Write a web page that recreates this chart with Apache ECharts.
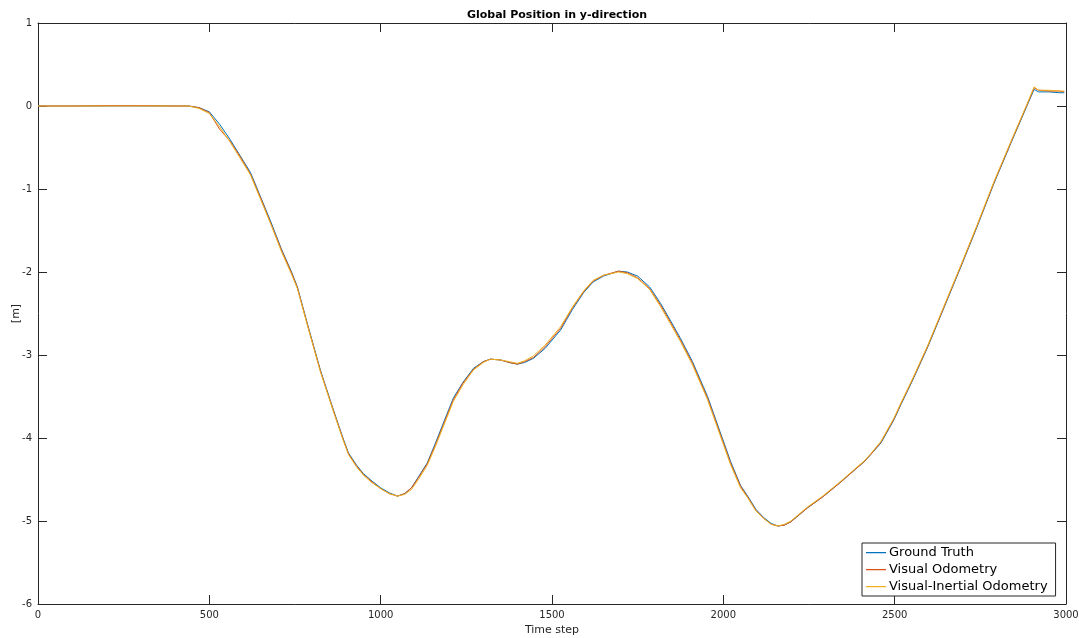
<!DOCTYPE html>
<html>
<head>
<meta charset="utf-8">
<script src="https://cdn.jsdelivr.net/npm/echarts@6/dist/echarts.min.js"></script>
<style>
html,body{margin:0;padding:0;background:#fff;}
#chart{width:1079px;height:638px;}
</style>
</head>
<body>
<div id="chart"></div>
<script>
var timeSteps = [0,100,200,300,400,440,470,500,530,560,590,620,650,680,710,740,757,786,824,862,890,906,930,950,975,1000,1025,1049,1070,1090,1110,1136,1160,1183,1212,1240,1271,1300,1320,1350,1375,1399,1420,1446,1480,1525,1560,1592,1620,1650,1694,1720,1750,1785,1817,1845,1875,1910,1954,1990,2021,2050,2071,2095,2118,2140,2159,2178,2197,2220,2246,2290,2343,2390,2410,2430,2460,2498,2518,2553,2597,2640,2693,2740,2790,2840,2889,2907,2920,2950,2980,2995];

var groundTruth = [0,0,0,0,0,
  0,-0.02,-0.07,-0.22,-0.40,
  -0.60,-0.80,-1.10,-1.40,-1.72,
  -2.00,-2.18,-2.62,-3.18,-3.66,
  -4.00,-4.18,-4.33,-4.43,-4.52,
  -4.60,-4.66,-4.70,-4.67,-4.60,
  -4.47,-4.30,-4.06,-3.82,-3.52,
  -3.33,-3.16,-3.08,-3.05,-3.06,
  -3.09,-3.11,-3.09,-3.04,-2.92,
  -2.70,-2.45,-2.25,-2.12,-2.05,
  -1.99,-2.00,-2.05,-2.18,-2.38,
  -2.58,-2.80,-3.08,-3.50,-3.92,
  -4.28,-4.57,-4.70,-4.86,-4.96,
  -5.03,-5.06,-5.05,-5.01,-4.93,
  -4.84,-4.71,-4.53,-4.36,-4.29,
  -4.20,-4.06,-3.78,-3.60,-3.30,
  -2.90,-2.47,-1.94,-1.46,-0.93,
  -0.44,0.03,0.20,0.17,0.17,
  0.16,0.16];

var visualOdometry = [0,0,0.005,0.005,0,
  0,-0.02,-0.08,-0.28,-0.42,
  -0.61,-0.82,-1.11,-1.42,-1.73,
  -2.01,-2.19,-2.63,-3.19,-3.67,
  -4.01,-4.19,-4.34,-4.44,-4.53,
  -4.61,-4.67,-4.70,-4.67,-4.60,
  -4.48,-4.31,-4.08,-3.84,-3.54,
  -3.34,-3.17,-3.08,-3.05,-3.06,
  -3.09,-3.11,-3.08,-3.03,-2.90,
  -2.68,-2.43,-2.24,-2.11,-2.04,
  -1.99,-2.01,-2.07,-2.20,-2.40,
  -2.60,-2.82,-3.10,-3.52,-3.94,
  -4.30,-4.58,-4.71,-4.87,-4.97,
  -5.04,-5.06,-5.05,-5.01,-4.93,
  -4.84,-4.71,-4.53,-4.36,-4.29,
  -4.20,-4.05,-3.77,-3.59,-3.29,
  -2.89,-2.46,-1.93,-1.45,-0.92,
  -0.43,0.04,0.22,0.19,0.18,
  0.18,0.17];

var visualInertialOdometry = [0,0,0,0,0,
  0,-0.03,-0.09,-0.25,-0.43,
  -0.63,-0.83,-1.13,-1.43,-1.75,
  -2.03,-2.20,-2.64,-3.20,-3.68,
  -4.02,-4.20,-4.35,-4.45,-4.54,
  -4.61,-4.67,-4.70,-4.68,-4.62,
  -4.50,-4.33,-4.10,-3.86,-3.56,
  -3.36,-3.18,-3.09,-3.05,-3.06,
  -3.08,-3.10,-3.07,-3.01,-2.88,
  -2.66,-2.42,-2.23,-2.10,-2.04,
  -2.00,-2.02,-2.08,-2.21,-2.42,
  -2.62,-2.84,-3.12,-3.54,-3.96,
  -4.32,-4.60,-4.72,-4.88,-4.97,
  -5.04,-5.06,-5.04,-5.00,-4.92,
  -4.83,-4.70,-4.52,-4.35,-4.28,
  -4.19,-4.04,-3.76,-3.58,-3.28,
  -2.88,-2.45,-1.92,-1.44,-0.91,
  -0.42,0.05,0.23,0.19,0.19,
  0.18,0.18];

var seriesNames = ['Ground Truth','Visual Odometry','Visual-Inertial Odometry'];
var seriesColors = ['#0072BD','#D95319','#EDB120'];

function pairs(ys){ return timeSteps.map(function(x,i){ return [x, ys[i]]; }); }
var allValues = [groundTruth, visualOdometry, visualInertialOdometry];

var FONT = 'DejaVu Sans';
var axisCol = '#262626';
function plain(v){ return String(v); }

var chart = echarts.init(document.getElementById('chart'), null, {renderer:'canvas'});
var option = {
  animation: false,
  backgroundColor: '#ffffff',
  textStyle: {fontFamily: FONT},
  title: {
    text: 'Global Position in y-direction',
    left: 552, top: 5, textAlign: 'center',
    textStyle: {fontFamily: FONT, fontSize: 11, fontWeight: 'bold', color: '#000'}
  },
  grid: {left: 38, right: 13, top: 23, bottom: 34, containLabel: false, outerBoundsMode: 'none'},
  legend: {
    orient: 'vertical',
    left: 862, top: 543,
    padding: [2, 8, 2, 4],
    itemGap: 2,
    itemWidth: 20,
    itemHeight: 15,
    backgroundColor: '#ffffff',
    borderColor: axisCol,
    borderWidth: 1,
    borderRadius: 0,
    textStyle: {fontFamily: FONT, fontSize: 13, color: '#000', padding: [0,0,0,-2]},
    data: seriesNames.map(function(n, i){
      return {name: n, icon: 'path://M0,7 L20,7 L20,8.2 L0,8.2 Z M0,0 L0.01,0 L0.01,0.01 Z M19.99,15 L20,15 L20,14.99 Z',
              itemStyle: {color: seriesColors[i], borderWidth: 0}};
    })
  },
  xAxis: [{
    type: 'value', min: 0, max: 3000, interval: 500, position: 'bottom',
    name: 'Time step', nameLocation: 'middle', nameGap: 19,
    nameTextStyle: {fontFamily: FONT, fontSize: 11, color: axisCol},
    axisLine: {show: true, onZero: false, lineStyle: {color: axisCol, width: 1}},
    axisTick: {show: true, inside: true, length: 9, lineStyle: {color: axisCol}},
    axisLabel: {fontFamily: FONT, fontSize: 10, color: axisCol, margin: 6, formatter: plain},
    splitLine: {show: false}
  },{
    type: 'value', min: 0, max: 3000, interval: 500, position: 'top',
    axisLine: {show: true, onZero: false, lineStyle: {color: axisCol, width: 1}},
    axisTick: {show: true, inside: true, length: 9, lineStyle: {color: axisCol}},
    axisLabel: {show: false}, splitLine: {show: false}
  }],
  yAxis: [{
    type: 'value', min: -6, max: 1, interval: 1, position: 'left',
    name: '[m]', nameLocation: 'middle', nameGap: 16, nameRotate: 90, nameMoveOverlap: false,
    nameTextStyle: {fontFamily: FONT, fontSize: 11, color: axisCol},
    axisLine: {show: true, onZero: false, lineStyle: {color: axisCol, width: 1}},
    axisTick: {show: true, inside: true, length: 9, lineStyle: {color: axisCol}},
    axisLabel: {fontFamily: FONT, fontSize: 10, color: axisCol, margin: 6, formatter: plain},
    splitLine: {show: false}
  },{
    type: 'value', min: -6, max: 1, interval: 1, position: 'right',
    axisLine: {show: true, onZero: false, lineStyle: {color: axisCol, width: 1}},
    axisTick: {show: true, inside: true, length: 9, lineStyle: {color: axisCol}},
    axisLabel: {show: false}, splitLine: {show: false}
  }],
  series: seriesNames.map(function(n, i){
    return {
      name: n, type: 'line', xAxisIndex: 0, yAxisIndex: 0,
      data: pairs(allValues[i]),
      symbol: 'none', showSymbol: false,
      smooth: false,
      lineStyle: {color: seriesColors[i], width: 1},
      itemStyle: {color: seriesColors[i]},
      z: 2 + i
    };
  })
};
chart.setOption(option);
</script>
</body>
</html>
